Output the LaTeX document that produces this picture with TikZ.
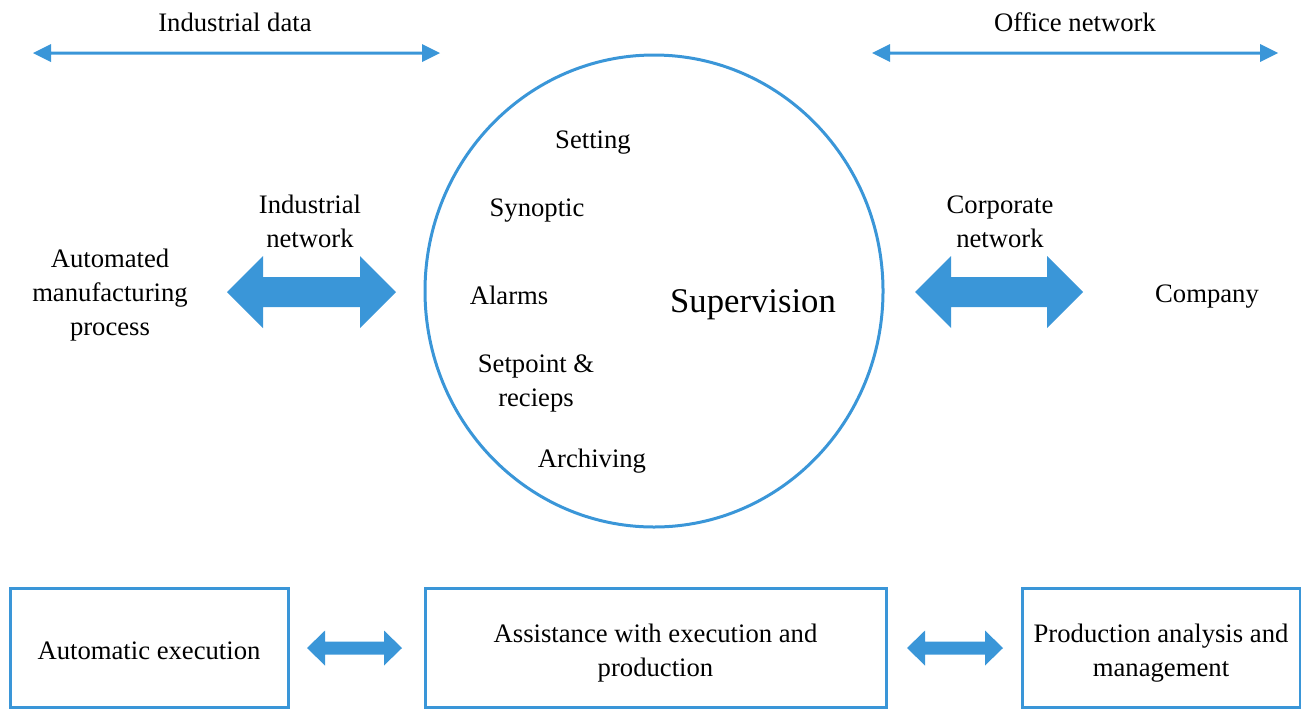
\documentclass[tikz,border=0pt]{standalone}
\usepackage{fontspec}
\setmainfont{Liberation Serif}
\usepackage{tikz}
\usetikzlibrary{calc, positioning}

\definecolor{netblue}{RGB}{58,150,216}

% fat double arrow between two named tips:
% #1 left tip, #2 right tip, #3 head length, #4 shaft half width, #5 head half width
\newcommand{\fatarrow}[5]{%
  \fill[netblue] (#1) -- ($(#1)+(#3,-#5)$) -- ($(#1)+(#3,-#4)$) -- ($(#2)+(-#3,-#4)$)
    -- ($(#2)+(-#3,-#5)$) -- (#2) -- ($(#2)+(-#3,#5)$) -- ($(#2)+(-#3,#4)$)
    -- ($(#1)+(#3,#4)$) -- ($(#1)+(#3,#5)$) -- cycle;}

\tikzset{
  txt/.style={font=\fontsize{20}{25.5}\selectfont, align=center, inner sep=0pt},
  stage/.style={draw=netblue, line width=2.25pt, minimum height=89.25pt, inner sep=0pt}
}

\begin{document}
\begin{tikzpicture}[x=0.75pt, y=-0.75pt]
  \useasboundingbox (0,0) rectangle (1301,708);

  % Top headers
  \node[txt] (inddata) at (235,22) {Industrial data};
  \node[txt] (office) at (1075,22) {Office network};
  \coordinate (indL) at (33,53);
  \coordinate (indR) at (440,53);
  \coordinate (offL) at (872,53);
  \coordinate (offR) at (1278,53);
  \fatarrow{indL}{indR}{18}{1.5}{9}
  \fatarrow{offL}{offR}{18}{1.5}{9}

  % Supervision circle
  \coordinate (ctr) at (654,291);
  \draw[netblue, line width=2.25pt] (ctr) ellipse [x radius=229, y radius=236];
  \node[txt, font=\fontsize{26}{30}\selectfont] (sup) at (753,305) {Supervision};
  \node[txt] (setting) at (593,143) {Setting};
  \node[txt] (synoptic) at (537,211) {Synoptic};
  \node[txt] (alarms) at (509,295) {Alarms};
  \node[txt] (setpoint) at (536,383) {Setpoint \&\\recieps};
  \node[txt] (archiving) at (592,461) {Archiving};

  % Left side: process and industrial network
  \node[txt] (process) at (110,295) {Automated\\manufacturing\\process};
  \node[txt] (indnet) at (310,221) {Industrial\\network};
  \coordinate (inL) at (227,292);
  \coordinate (inR) at (396,292);
  \fatarrow{inL}{inR}{36}{15}{36}

  % Right side: company and corporate network
  \node[txt] (company) at (1207,297) {Company};
  \node[txt] (corpnet) at (1000,222) {Corporate\\network};
  \coordinate (coL) at (915,292);
  \coordinate (coR) at (1083,292);
  \fatarrow{coL}{coR}{36}{15}{36}

  % Bottom row of stages
  \node[stage, minimum width=208.5pt] (auto) at (149,647.5) {};
  \node[stage, minimum width=345.75pt] (assist) at (655.5,647.5) {};
  \node[stage, minimum width=208.5pt] (analysis) at (1161,647.5) {};
  \node[txt] (autotxt) at ($(auto.center)+(0,3)$) {Automatic execution};
  \node[txt] (assisttxt) at ($(assist.center)+(0,6)$) {Assistance with execution and\\production};
  \node[txt] (analysistxt) at ($(analysis.center)+(0,6)$) {Production analysis and\\management};
  \coordinate (b1L) at (307,648);
  \coordinate (b1R) at (402,648);
  \coordinate (b2L) at (907,648);
  \coordinate (b2R) at (1003,648);
  \fatarrow{b1L}{b1R}{18}{6.5}{17.5}
  \fatarrow{b2L}{b2R}{18}{6.5}{17.5}
\end{tikzpicture}
\end{document}
